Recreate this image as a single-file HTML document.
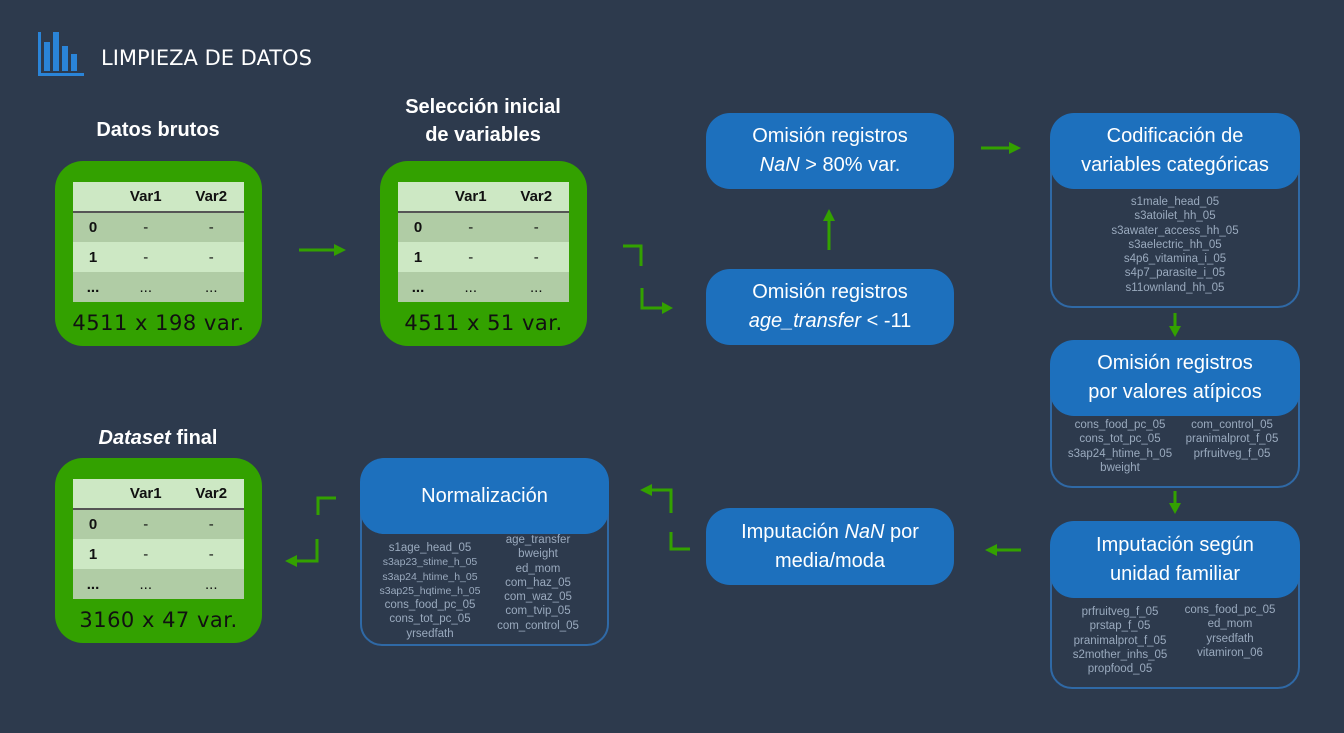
<!DOCTYPE html>
<html><head><meta charset="utf-8"><style>
*{margin:0;padding:0;box-sizing:border-box}
body{width:1344px;height:733px;background:#2d3a4d;position:relative;overflow:hidden;font-family:"Liberation Sans",sans-serif}
.a{position:absolute}
.gb{position:absolute;background:#33a100;border-radius:28px;width:207px;height:185px}
.tb{position:absolute;left:18px;top:21px;width:171px;border-collapse:collapse;font-size:15px;font-weight:bold;color:#111}
.tb td{height:30px;text-align:center}
.tb tr.h td{background:#cde8c4;border-bottom:2px solid #555;height:30px}
.tb tr.d td{background:#b0cca5;font-weight:normal}
.tb tr.l td{background:#cde8c4;font-weight:normal}
.tb tr td:first-child{font-weight:bold;width:40px}
.cap{position:absolute;left:0;width:207px;top:150px;text-align:center;font-size:21px;color:#111;font-family:"DejaVu Sans",sans-serif;letter-spacing:0.5px}
.ttl{position:absolute;color:#fff;font-weight:bold;font-size:20px;text-align:center;line-height:28px}
.bh{position:absolute;background:#1d70bd;border-radius:24px;color:#fff;text-align:center;font-size:20px;line-height:29px;display:flex;align-items:center;justify-content:center;flex-direction:column;font-family:"Liberation Sans",sans-serif}
.ol{position:absolute;border:2.5px solid #2f69a6;border-radius:22px}
.ls{position:absolute;color:#9aaabe;font-size:11.5px;line-height:14.3px;text-align:center}
</style></head><body>
<svg class="a" style="left:38px;top:30px" width="46" height="46"><rect x="0" y="2" width="3" height="44" fill="#2a84d8"/><rect x="0" y="43" width="46" height="3" fill="#2a84d8"/><rect x="6" y="12" width="6" height="29" fill="#2a84d8"/><rect x="15" y="2" width="6" height="39" fill="#2a84d8"/><rect x="24" y="16" width="6" height="25" fill="#2a84d8"/><rect x="33" y="24" width="6" height="17" fill="#2a84d8"/></svg>
<div class="a" style="left:101px;top:46px;color:#fff;font-size:21px;font-family:'DejaVu Sans',sans-serif">LIMPIEZA DE DATOS</div>

<div class="ttl" style="left:58px;top:116px;width:200px">Datos brutos</div>
<div class="ttl" style="left:383px;top:93px;width:200px">Selección inicial<br>de variables</div>
<div class="ttl" style="left:58px;top:424px;width:200px"><i>Dataset</i> final</div>

<div class="gb" style="left:55px;top:161px"><table class="tb"><tr class="h"><td></td><td>Var1</td><td>Var2</td></tr><tr class="d"><td>0</td><td>-</td><td>-</td></tr><tr class="l"><td>1</td><td>-</td><td>-</td></tr><tr class="d"><td>...</td><td>...</td><td>...</td></tr></table><div class="cap">4511 x 198 var.</div></div>
<div class="gb" style="left:380px;top:161px"><table class="tb"><tr class="h"><td></td><td>Var1</td><td>Var2</td></tr><tr class="d"><td>0</td><td>-</td><td>-</td></tr><tr class="l"><td>1</td><td>-</td><td>-</td></tr><tr class="d"><td>...</td><td>...</td><td>...</td></tr></table><div class="cap">4511 x 51 var.</div></div>
<div class="gb" style="left:55px;top:458px"><table class="tb"><tr class="h"><td></td><td>Var1</td><td>Var2</td></tr><tr class="d"><td>0</td><td>-</td><td>-</td></tr><tr class="l"><td>1</td><td>-</td><td>-</td></tr><tr class="d"><td>...</td><td>...</td><td>...</td></tr></table><div class="cap">3160 x 47 var.</div></div>

<div class="bh" style="left:706px;top:113px;width:248px;height:76px"><div>Omisión registros</div><div><i>NaN</i> &gt; 80% var.</div></div>
<div class="bh" style="left:706px;top:269px;width:248px;height:76px"><div>Omisión registros</div><div><i>age_transfer</i> &lt; -11</div></div>
<div class="bh" style="left:706px;top:508px;width:248px;height:77px"><div>Imputación <i>NaN</i> por</div><div>media/moda</div></div>

<div class="ol" style="left:1050px;top:140px;width:250px;height:168px"></div>
<div class="bh" style="left:1050px;top:113px;width:250px;height:76px"><div>Codificación de</div><div>variables categóricas</div></div>
<div class="ls" style="left:1050px;top:195px;width:250px">s1male_head_05<br>s3atoilet_hh_05<br>s3awater_access_hh_05<br>s3aelectric_hh_05<br>s4p6_vitamina_i_05<br>s4p7_parasite_i_05<br>s11ownland_hh_05</div>

<div class="ol" style="left:1050px;top:370px;width:250px;height:118px"></div>
<div class="bh" style="left:1050px;top:340px;width:250px;height:76px"><div>Omisión registros</div><div>por valores atípicos</div></div>
<div class="ls" style="left:1060px;top:418px;width:120px">cons_food_pc_05<br>cons_tot_pc_05<br>s3ap24_htime_h_05<br>bweight</div>
<div class="ls" style="left:1172px;top:418px;width:120px">com_control_05<br>pranimalprot_f_05<br>prfruitveg_f_05</div>

<div class="ol" style="left:1050px;top:555px;width:250px;height:134px"></div>
<div class="bh" style="left:1050px;top:521px;width:250px;height:77px"><div>Imputación según</div><div>unidad familiar</div></div>
<div class="ls" style="left:1060px;top:605px;width:120px">prfruitveg_f_05<br>prstap_f_05<br>pranimalprot_f_05<br>s2mother_inhs_05<br>propfood_05</div>
<div class="ls" style="left:1170px;top:603px;width:120px">cons_food_pc_05<br>ed_mom<br>yrsedfath<br>vitamiron_06</div>

<div class="ol" style="left:360px;top:490px;width:249px;height:156px"></div>
<div class="bh" style="left:360px;top:458px;width:249px;height:76px"><div>Normalización</div></div>
<div class="ls" style="left:370px;top:541px;width:120px">s1age_head_05<br><span style="font-size:10.5px">s3ap23_stime_h_05<br>s3ap24_htime_h_05<br>s3ap25_hqtime_h_05</span><br>cons_food_pc_05<br>cons_tot_pc_05<br>yrsedfath</div>
<div class="ls" style="left:478px;top:533px;width:120px">age_transfer<br>bweight<br>ed_mom<br>com_haz_05<br>com_waz_05<br>com_tvip_05<br>com_control_05</div>

<svg class="a" style="left:0;top:0" width="1344" height="733">
<g stroke="#33a100" stroke-width="3" fill="none">
<path d="M299 250H334"/>
<path d="M623 246H641V266"/>
<path d="M642 288V308H664"/>
<path d="M829 250V220"/>
<path d="M981 148H1010"/>
<path d="M1175 313V327"/>
<path d="M1175 491V504"/>
<path d="M1021 550H995"/>
<path d="M671 513V490H651"/>
<path d="M671 532V549H690"/>
<path d="M336 498H318V515"/>
<path d="M317 539V561H296"/>
</g>
<g fill="#33a100">
<path d="M334 244L346 250L334 256Z"/>
<path d="M662 302L673 308L662 314Z"/>
<path d="M823 221L829 209L835 221Z"/>
<path d="M1009 142L1021 148L1009 154Z"/>
<path d="M1169 326L1175 337L1181 326Z"/>
<path d="M1169 503L1175 514L1181 503Z"/>
<path d="M997 544L985 550L997 556Z"/>
<path d="M652 484L640 490L652 496Z"/>
<path d="M297 555L285 561L297 567Z"/>
</g>
</svg>
</body></html>
